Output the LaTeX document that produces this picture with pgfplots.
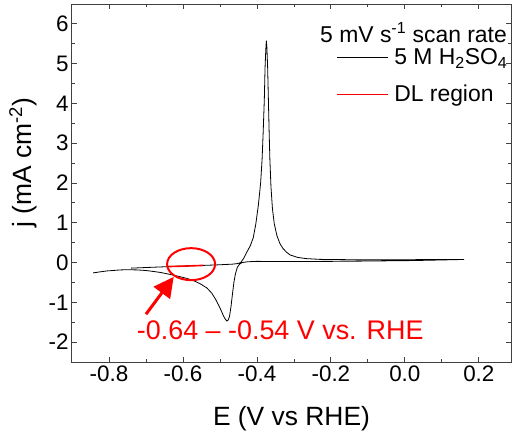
\documentclass[border=0pt]{standalone}
\usepackage{pgfplots}
\pgfplotsset{compat=1.18}
\usepackage{fontspec}
\setmainfont{Liberation Sans}
\usetikzlibrary{arrows.meta}
\definecolor{dlred}{RGB}{255,0,0}
\begin{document}
\begin{tikzpicture}
\begin{axis}[
  at={(0,0)}, anchor=south west,
  width=439bp, height=358bp, scale only axis,
  xmin=-0.9, xmax=0.287, ymin=-2.5, ymax=6.5,
  xtick={-0.8,-0.6,-0.4,-0.2,0,0.2},
  ytick={-2,-1,0,1,2,3,4,5,6},
  minor x tick num=1, minor y tick num=1,
  tick align=inside, major tick length=5bp, minor tick length=3bp,
  axis line style={black!75, line width=1bp},
  every tick/.append style={black!75, line width=0.8bp},
  /pgf/number format/assume math mode=true,
  xticklabel style={/pgf/number format/fixed, /pgf/number format/fixed zerofill, /pgf/number format/precision=1},
  tick label style={font=\fontsize{22.5}{26}\selectfont},
  label style={font=\fontsize{26.5}{30}\selectfont},
  xlabel={E (V vs RHE)},
  ylabel={j (mA cm\textsuperscript{-2})},
  xlabel style={at={(rel axis cs:0.5,-0.159)}, anchor=center},
  ylabel style={at={(rel axis cs:-0.112,0.556)}, anchor=center},
  legend style={draw=none, fill=none, at={(rel axis cs:1,0.885)}, anchor=north east,
    font=\fontsize{23}{27}\selectfont, legend cell align=left, inner sep=0pt,
    nodes={inner sep=3.5bp}, row sep=12bp,
    /tikz/every odd column/.append style={column sep=2bp}},
]
\addplot[draw=black, line width=0.8bp,
  legend image code/.code={\draw[draw=black, line width=0.8bp] (0bp,0bp) -- (51bp,0bp);}] coordinates {
(-0.74,-0.14) (-0.70,-0.125) (-0.66,-0.11) (-0.634,-0.10) (-0.60,-0.09) (-0.556,-0.075)
(-0.511,-0.06) (-0.466,-0.04) (-0.452,-0.025) (-0.444,0.0) (-0.436,0.1) (-0.428,0.25)
(-0.418,0.42) (-0.410,0.62) (-0.403,0.97) (-0.396,1.45) (-0.390,2.0) (-0.386,2.6)
(-0.383,3.3) (-0.380,4.1) (-0.378,4.9) (-0.376,5.35) (-0.3745,5.58) (-0.373,5.4)
(-0.371,4.9) (-0.369,4.1) (-0.367,3.3) (-0.365,2.6) (-0.362,1.9) (-0.358,1.35)
(-0.353,0.97) (-0.346,0.68) (-0.338,0.48) (-0.33,0.36) (-0.32,0.26) (-0.31,0.19)
(-0.29,0.13) (-0.268,0.10) (-0.23,0.08) (-0.15,0.072) (0.0,0.072) (0.16,0.078)
(0.1,0.065) (0.02,0.05) (-0.1,0.038) (-0.2,0.03) (-0.34,0.025) (-0.40,0.03)
(-0.425,0.02) (-0.440,0.0) (-0.447,-0.04) (-0.453,-0.12) (-0.458,-0.28) (-0.462,-0.48)
(-0.466,-0.78) (-0.470,-1.1) (-0.474,-1.35) (-0.478,-1.45) (-0.481,-1.47) (-0.485,-1.43)
(-0.490,-1.35) (-0.496,-1.22) (-0.503,-1.08) (-0.512,-0.92) (-0.522,-0.77) (-0.535,-0.64)
(-0.554,-0.53) (-0.57,-0.46) (-0.589,-0.40) (-0.61,-0.35) (-0.634,-0.30) (-0.66,-0.25)
(-0.679,-0.225) (-0.70,-0.2) (-0.724,-0.185) (-0.75,-0.18) (-0.769,-0.185) (-0.79,-0.2)
(-0.805,-0.21) (-0.825,-0.235) (-0.843,-0.26)
};
\addlegendentry{5 M H\textsubscript{2}SO\textsubscript{4}}
\addplot[draw=dlred, line width=1.6bp,
  legend image code/.code={\draw[draw=dlred, line width=1.2bp] (0bp,0bp) -- (51bp,0bp);}] coordinates {(-0.638,-0.10) (-0.60,-0.09) (-0.546,-0.072)};
\addlegendentry{DL region}
\draw[dlred, line width=2bp] (axis cs:-0.578,-0.04) ellipse [x radius=24bp, y radius=16bp];
\draw[dlred, line width=3bp, -{Triangle[width=20bp,length=20bp]}] (axis cs:-0.70,-1.30) -- (axis cs:-0.625,-0.36);
\node[text=dlred, font=\fontsize{27}{30}\selectfont, anchor=center] at (axis cs:-0.337,-1.70) {-0.64 -- -0.54 V vs. RHE};
\node[font=\fontsize{23}{27}\selectfont, anchor=east, inner sep=0pt] at (rel axis cs:0.991,0.919) {5 mV s\textsuperscript{-1} scan rate};
\end{axis}
\pgfresetboundingbox
\path[use as bounding box] (-72bp,-73bp) rectangle (440bp,362bp);
\end{tikzpicture}
\end{document}
